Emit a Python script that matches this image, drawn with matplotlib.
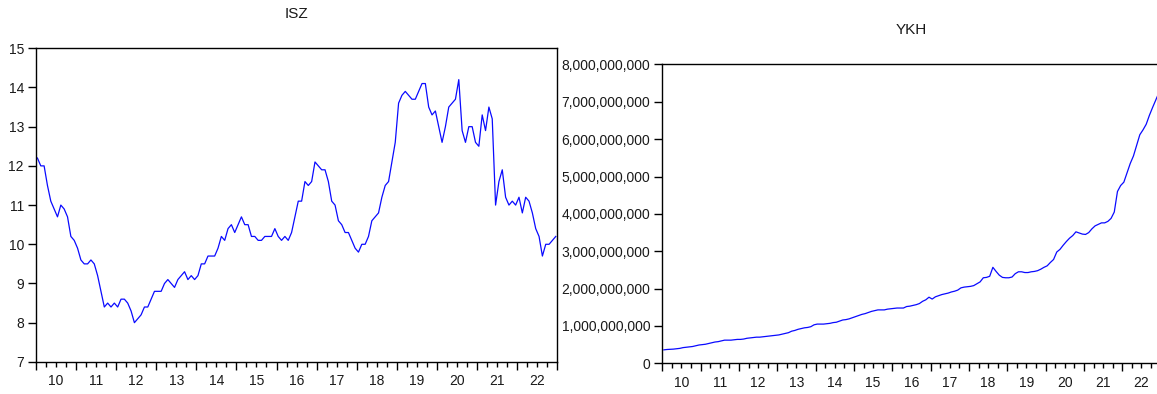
import numpy as np
import matplotlib
matplotlib.use("Agg")
import matplotlib.pyplot as plt
from matplotlib.ticker import FixedLocator, FuncFormatter, NullFormatter

plt.rcParams['font.family'] = ['Liberation Sans', 'DejaVu Sans']

# monthly observations, 2010M01 .. 2022M12
years = list(range(2010, 2023))
year_labels = [str(y)[2:] for y in years]

isz = [12.2, 12.0, 12.0, 11.5, 11.1, 10.9, 10.7, 11.0, 10.9, 10.7, 10.2, 10.1,
       9.9, 9.6, 9.5, 9.5, 9.6, 9.5, 9.2, 8.8, 8.4, 8.5, 8.4, 8.5,
       8.4, 8.6, 8.6, 8.5, 8.3, 8.0, 8.1, 8.2, 8.4, 8.4, 8.6, 8.8,
       8.8, 8.8, 9.0, 9.1, 9.0, 8.9, 9.1, 9.2, 9.3, 9.1, 9.2, 9.1,
       9.2, 9.5, 9.5, 9.7, 9.7, 9.7, 9.9, 10.2, 10.1, 10.4, 10.5, 10.3,
       10.5, 10.7, 10.5, 10.5, 10.2, 10.2, 10.1, 10.1, 10.2, 10.2, 10.2, 10.4,
       10.2, 10.1, 10.2, 10.1, 10.3, 10.7, 11.1, 11.1, 11.6, 11.5, 11.6, 12.1,
       12.0, 11.9, 11.9, 11.6, 11.1, 11.0, 10.6, 10.5, 10.3, 10.3, 10.1, 9.9,
       9.8, 10.0, 10.0, 10.2, 10.6, 10.7, 10.8, 11.2, 11.5, 11.6, 12.1, 12.6,
       13.6, 13.8, 13.9, 13.8, 13.7, 13.7, 13.9, 14.1, 14.1, 13.5, 13.3, 13.4,
       13.0, 12.6, 13.0, 13.5, 13.6, 13.7, 14.2, 12.9, 12.6, 13.0, 13.0, 12.6,
       12.5, 13.3, 12.9, 13.5, 13.2, 11.0, 11.6, 11.9, 11.2, 11.0, 11.1, 11.0,
       11.2, 10.8, 11.2, 11.1, 10.8, 10.4, 10.2, 9.7, 10.0, 10.0, 10.1, 10.2]

# YKH in billions
ykh_bn = [0.36, 0.37, 0.375, 0.38, 0.39, 0.40, 0.42, 0.43, 0.44, 0.45, 0.47, 0.49,
          0.50, 0.51, 0.53, 0.55, 0.57, 0.58, 0.60, 0.62, 0.62, 0.62, 0.63, 0.64,
          0.64, 0.65, 0.67, 0.68, 0.69, 0.70, 0.70, 0.71, 0.72, 0.73, 0.74, 0.75,
          0.76, 0.78, 0.80, 0.82, 0.86, 0.88, 0.91, 0.93, 0.95, 0.96, 0.98, 1.03,
          1.05, 1.05, 1.05, 1.06, 1.07, 1.09, 1.10, 1.13, 1.16, 1.17, 1.19, 1.22,
          1.25, 1.28, 1.31, 1.33, 1.36, 1.39, 1.41, 1.43, 1.43, 1.43, 1.45, 1.46,
          1.47, 1.48, 1.48, 1.48, 1.52, 1.53, 1.55, 1.57, 1.60, 1.66, 1.70, 1.77,
          1.72, 1.78, 1.81, 1.84, 1.86, 1.88, 1.91, 1.93, 1.96, 2.02, 2.04, 2.05,
          2.06, 2.08, 2.13, 2.18, 2.29, 2.30, 2.33, 2.57, 2.46, 2.36, 2.30, 2.29,
          2.29, 2.31, 2.40, 2.45, 2.45, 2.43, 2.43, 2.45, 2.46, 2.48, 2.52, 2.57,
          2.61, 2.70, 2.78, 2.98, 3.05, 3.16, 3.26, 3.35, 3.42, 3.52, 3.49, 3.46,
          3.45, 3.50, 3.60, 3.68, 3.72, 3.76, 3.76, 3.80, 3.88, 4.05, 4.60, 4.76,
          4.85, 5.10, 5.35, 5.55, 5.84, 6.12, 6.25, 6.40, 6.64, 6.85, 7.05, 7.25]

n = len(isz)
t = np.arange(n)
ykh = np.array(ykh_bn) * 1e9

fig = plt.figure(figsize=(11.57, 3.94), dpi=100)
ax1 = fig.add_axes([0.0309, 0.0815, 0.4509, 0.796])
ax2 = fig.add_axes([0.5724, 0.0779, 0.4307, 0.7584])

txt = '#1a1a1a'
line_col = '#0a0aff'
major_pos = [12 * i - 0.5 for i in range(len(years) + 1)]
minor_pos = [12 * i - 0.5 + 3 * j for i in range(len(years)) for j in (1, 2, 3)]


def year_fmt(x, pos):
    # label only the mid-year quarter tick
    i = int(round((x + 0.5 - 6) / 12))
    if abs(12 * i + 5.5 - x) < 1e-6 and 0 <= i < len(year_labels):
        return year_labels[i]
    return ''


def style(ax):
    for s in ax.spines.values():
        s.set_linewidth(1.0)
        s.set_color('black')
    ax.set_xlim(-0.5, n - 0.5)
    ax.xaxis.set_major_locator(FixedLocator(major_pos))
    ax.xaxis.set_major_formatter(NullFormatter())
    ax.xaxis.set_minor_locator(FixedLocator(minor_pos))
    ax.xaxis.set_minor_formatter(FuncFormatter(year_fmt))
    ax.tick_params(axis='x', which='major', direction='out', length=6, width=1.0)
    ax.tick_params(axis='x', which='minor', direction='out', length=3.5, width=1.0,
                   pad=5.5, labelsize=10, labelcolor=txt)
    ax.tick_params(axis='y', direction='out', length=5.5, width=1.0, pad=3,
                   labelsize=10, labelcolor=txt)


ax1.plot(t, isz, color=line_col, lw=0.9)
style(ax1)
ax1.set_ylim(7, 15)
ax1.set_yticks(range(7, 16))
ax1.set_title('ISZ', fontsize=11, color=txt, pad=22)

ax2.plot(t, ykh, color=line_col, lw=0.9)
style(ax2)
ax2.set_ylim(0, 8e9)
ax2.set_yticks(np.arange(0, 9) * 1e9)
ax2.yaxis.set_major_formatter(FuncFormatter(lambda v, p: f'{int(round(v)):,}'))
ax2.set_title('YKH', fontsize=11, color=txt, pad=22)

fig.savefig('out.png', dpi=100)
